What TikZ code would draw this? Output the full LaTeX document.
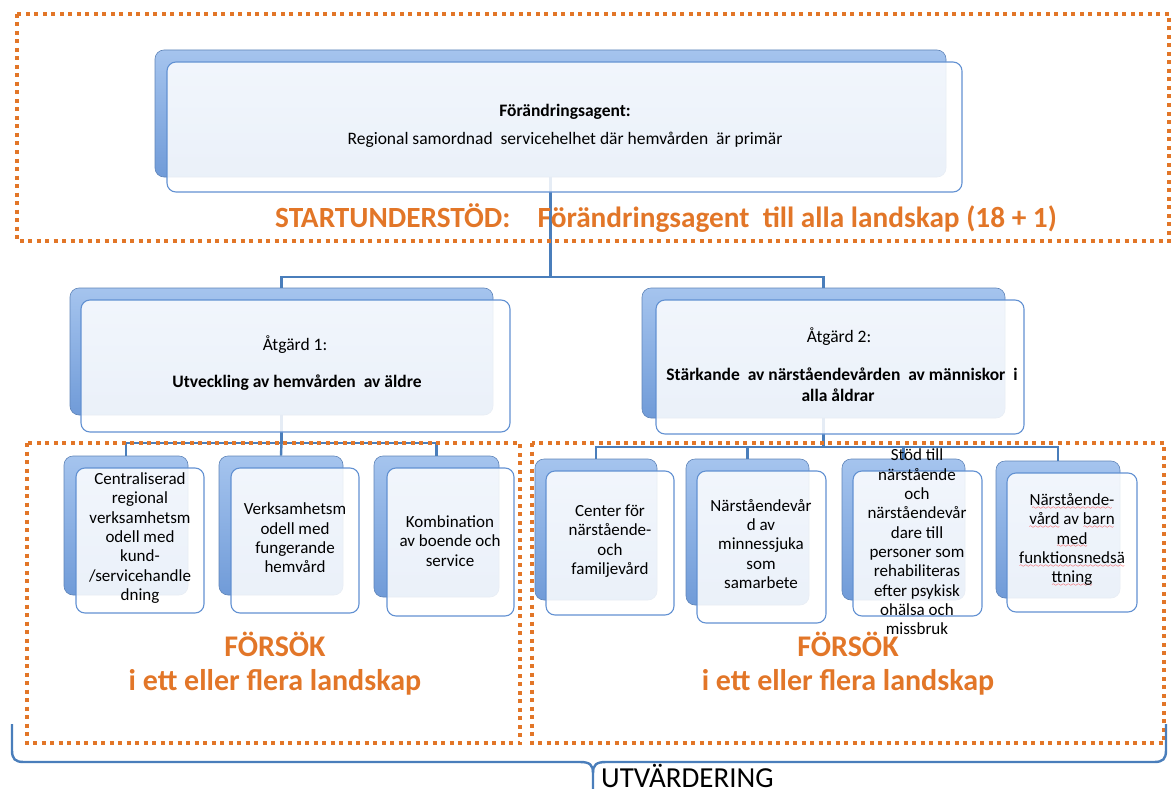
\documentclass[tikz,border=0pt]{standalone}
\usepackage{fontspec}
\setmainfont{Carlito}
\usetikzlibrary{fit}
\definecolor{orng}{RGB}{226,118,40}
\definecolor{lnblue}{RGB}{74,126,187}
\definecolor{cardedge}{RGB}{98,145,210}
\definecolor{backtop}{RGB}{165,196,238}
\definecolor{backbot}{RGB}{112,155,216}
\font\sqfont=lasy6
\newcommand\sq[1]{\setbox0=\hbox{#1}\rlap{\lower3.5pt\hbox to \wd0{\color{red}\cleaders\hbox{\sqfont\char58}\hfil}}\box0\relax}
\begin{document}
\begin{tikzpicture}[x=1pt,y=-1pt,
  backcard/.style={draw=backbot!85!black, line width=0.6pt, top color=backtop, bottom color=backbot, rounded corners=9pt, inner sep=0pt},
  frontcard/.style={draw=cardedge, line width=1.1pt, fill=white, fill opacity=0.86, rounded corners=9pt, inner sep=0pt},
  conn/.style={draw=lnblue, line width=2.4pt},
  dotbox/.style={draw=orng, line width=3.2pt, dash pattern=on 4pt off 4.5pt},
  ctext/.style={align=center, font=\fontsize{17}{19.3}\selectfont, inner sep=0pt},
  btext/.style={anchor=base, inner sep=0pt, font=\fontsize{17.5}{21}\selectfont},
  otext/.style={anchor=base, inner sep=0pt, text=orng, font=\fontsize{30}{34}\selectfont\bfseries},
  brace/.style={draw=lnblue, line width=2.4pt}
]
\useasboundingbox (0,0) rectangle (1172,789);

% back cards
\node[backcard, fit={(155,50) (946,177)}] (Tb) {};
\node[backcard, fit={(70,288) (493,415)}] (A1b) {};
\node[backcard, fit={(642,288) (1005,418)}] (A2b) {};
\node[backcard, fit={(64,456) (188,595)}] (L1b) {};
\node[backcard, fit={(219,456) (343,595)}] (L2b) {};
\node[backcard, fit={(374,456) (499,597)}] (L3b) {};
\node[backcard, fit={(535,459) (657,600)}] (R1b) {};
\node[backcard, fit={(686,459) (809,605)}] (R2b) {};
\node[backcard, fit={(842,459) (965,600)}] (R3b) {};
\node[backcard, fit={(996,461) (1120,598)}] (R4b) {};

% connectors
\coordinate (bus0) at (0,277);
\coordinate (bus1) at (0,443);
\coordinate (bus2) at (0,447);
\draw[conn] (Tb.south) -- (Tb.south |- bus0) -| (A1b.north);
\draw[conn] (Tb.south |- bus0) -| (A2b.north);
\draw[conn] (A1b.south) -- (A1b.south |- bus1) -| (L1b.north);
\draw[conn] (A1b.south |- bus1) -- (L2b.north);
\draw[conn] (A1b.south |- bus1) -| (L3b.north);
\draw[conn] (A2b.south) -- (A2b.south |- bus2) -| (R1b.north);
\draw[conn] (A2b.south |- bus2) -| (R2b.north);
\draw[conn] (A2b.south |- bus2) -| (R3b.north);
\draw[conn] (A2b.south |- bus2) -| (R4b.north);

% front cards
\node[frontcard, fit={(167,62) (962,192)}] (Tf) {};
\node[frontcard, fit={(81,300) (510,432)}] (A1f) {};
\node[frontcard, fit={(656,300) (1024,434)}] (A2f) {};
\node[frontcard, fit={(76,468) (204,613)}] (L1f) {};
\node[frontcard, fit={(231,468) (359,613)}] (L2f) {};
\node[frontcard, fit={(387,468) (514,616)}] (L3f) {};
\node[frontcard, fit={(546,471) (674,615)}] (R1f) {};
\node[frontcard, fit={(697,471) (826,623)}] (R2f) {};
\node[frontcard, fit={(853,471) (982,616)}] (R3f) {};
\node[frontcard, fit={(1007,473) (1137,612)}] (R4f) {};

% dotted frames
\draw[dotbox] (17,14) rectangle (1169,241);
\draw[dotbox] (27,443) rectangle (520,743);
\draw[dotbox] (532,443) rectangle (1164,743);

% texts in top and level-2 cards
\node[btext] (t1) at (565,117) {\bfseries Förändringsagent:};
\node[btext] (t2) at (565,145) {Regional samordnad\ \ servicehelhet där hemvården\ \ är primär};
\node[btext] (a1a) at (295,350) {Åtgärd 1:};
\node[btext] (a1b) at (297,387) {\bfseries Utveckling av hemvården\ \ av äldre};
\node[btext] (a2a) at (839,342) {Åtgärd 2:};
\node[btext] (a2b) at (842,380) {\bfseries Stärkande\ \ av närståendevården\ \ av människor\ \ i};
\node[btext] (a2c) at (838,401) {\bfseries alla åldrar};

% child texts
\node[ctext] (L1t) at (140,538) {Centraliserad\\regional\\verksamhetsm\\odell med\\kund-\\/servicehandle\\dning};
\node[ctext] (L2t) at (295,538) {Verksamhetsm\\odell med\\fungerande\\hemvård};
\node[ctext] (L3t) at (450,541) {Kombination\\av boende och\\service};
\node[ctext] (R1t) at (610,541) {Center för\\närstående-\\och\\familjevård};
\node[ctext] (R2t) at (761,544) {Närståendevår\\d av\\minnessjuka\\som\\samarbete};
\node[ctext] (R3t) at (917,542) {Stöd till\\närstående\\och\\närståendevår\\dare till\\personer som\\rehabiliteras\\efter psykisk\\ohälsa och\\missbruk};
\node[ctext] (R4t) at (1072,540) {\sq{Närstående-}\\\sq{vård} av \sq{barn}\\\sq{med}\\\sq{funktionsnedsä}\\\sq{ttning}};

% orange captions
\node[otext, font=\fontsize{29.3}{34}\selectfont\bfseries] (start) at (666,227) {STARTUNDERSTÖD:\hspace{0.7em} Förändringsagent\ \ till alla landskap (18 + 1)};
\node[otext] (f1a) at (275,656) {FÖRSÖK};
\node[otext] (f1b) at (275,690) {i ett eller flera landskap};
\node[otext] (f2a) at (848,656) {FÖRSÖK};
\node[otext] (f2b) at (848,690) {i ett eller flera landskap};

% evaluation brace
\draw[brace] (12,724) -- (12,750) .. controls (12,759) and (15,762) .. (24,762) -- (580,762) .. controls (590,762) and (593,765) .. (593,773) -- (593,790);
\draw[brace] (593,773) .. controls (593,765) and (596,762) .. (606,762) -- (1154,762) .. controls (1163,762) and (1166,759) .. (1166,750) -- (1166,724);
\node[anchor=base west, inner sep=0pt, font=\fontsize{29}{34}\selectfont] (utv) at (601,787) {UTVÄRDERING};
\end{tikzpicture}
\end{document}
